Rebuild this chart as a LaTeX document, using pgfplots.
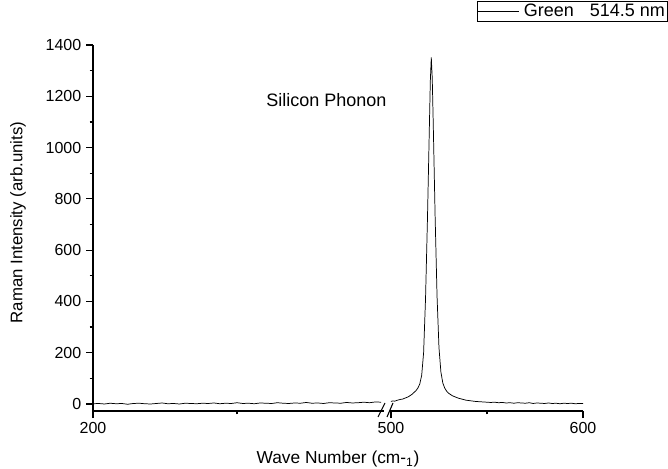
\documentclass[border=0pt]{standalone}
\usepackage{pgfplots}
\pgfplotsset{compat=1.18}
\usepackage{fontspec}
\setmainfont{Liberation Sans}

\pgfplotstableread{
x y
200 1
202 2
204 0
206 3
208 1
210 2
212 -1
214 2
216 3
218 1
220 0
222 2
224 4
226 1
228 2
230 0
232 3
234 2
236 1
238 3
240 2
242 4
244 1
246 3
248 2
250 5
252 2
254 3
256 1
258 4
260 3
262 2
264 5
266 3
268 2
270 4
272 3
274 6
276 3
278 4
280 2
282 5
284 4
286 3
288 6
290 4
292 5
294 7
296 5
298 8
300 7
}\leftdata

\pgfplotstableread{
x y
500 10
501 12
502 11
503 14
504 16
505 18
506 19
507 22
508 25
509 28
510 33
511 38
512 45
513 52
514 62
515 78
516 112
517 200
518 410
519 720
520 1080
520.5 1260
521 1352
521.5 1270
522 1100
523 730
524 420
525 220
526 125
527 82
528 62
529 50
530 42
531 37
532 32
533 29
534 26
535 23
536 21
537 19
538 17
539 15
540 14
542 12
544 10
546 9
548 8
550 7
552 6
554 7
556 5
558 6
560 4
562 5
564 3
566 5
568 4
570 3
572 5
574 2
576 4
578 3
580 2
582 4
584 2
586 3
588 1
590 3
592 2
594 3
596 1
598 2
600 2
}\rightdata

\begin{document}
\begin{tikzpicture}
\useasboundingbox (0pt,0pt) rectangle (501pt,351pt);
\pgfplotsset{
  every axis/.append style={
    scale only axis,
    height=274.5pt,
    ymin=-27.3, ymax=1400,
    font=\fontsize{12}{14}\selectfont,
    /pgf/number format/assume math mode=true,
    tick align=outside,
    major tick length=5.25pt,
    minor tick length=2.6pt,
    axis line style={line width=0.9pt},
    every tick/.style={line width=0.9pt, black},
    clip=false,
  }
}
\begin{axis}[
  at={(69.75pt,42.75pt)}, anchor=south west,
  width=218.25pt,
  xmin=200, xmax=301,
  axis x line*=bottom, axis y line*=left,
  xtick={200}, minor xtick={250},
  ytick={0,200,400,600,800,1000,1200,1400},
  minor ytick={100,300,500,700,900,1100,1300},
  yticklabel style={/pgf/number format/1000 sep={}},
  xticklabel style={/pgf/number format/1000 sep={}},
  ylabel={Raman Intensity (arb.units)},
  ylabel style={at={(axis description cs:-0.258,0.515)}, anchor=center, font=\fontsize{12.6}{15}\selectfont},
  xlabel={Wave Number (cm-\textsubscript{1})},
  xlabel style={at={(axis description cs:0.842,-0.131)}, anchor=center, font=\fontsize{13}{15}\selectfont},
]
\addplot[black, line width=0.55pt] table[x=x,y=y] {\leftdata};
\node[font=\fontsize{13.5}{15}\selectfont] at (axis cs:281,1186) {Silicon Phonon};
\end{axis}
\begin{axis}[
  at={(292.5pt,42.75pt)}, anchor=south west,
  width=144.75pt,
  xmin=499.5, xmax=600,
  axis x line*=bottom, axis y line=none,
  xtick={500,600}, minor xtick={550},
  ytick=\empty,
  xticklabel style={/pgf/number format/1000 sep={}},
  legend style={at={(axis description cs:1.4404,1.1202)}, anchor=north east,
    draw=black, line width=0.6pt, inner sep=0pt, font=\fontsize{13.5}{15}\selectfont,
    /tikz/every even column/.append style={column sep=0pt}},
  legend cell align=left,
  legend image code/.code={\draw[black, line width=0.6pt] (0pt,0pt) -- (31pt,0pt);},
]
\addplot[black, line width=0.55pt] table[x=x,y=y] {\rightdata};
\addlegendentry{\hspace{1pt}Green\hspace{12pt}514.5 nm}
\end{axis}
\draw[line width=0.8pt] (283.5pt,38.25pt) -- (288.75pt,48.75pt);
\draw[line width=0.8pt] (290.25pt,38.25pt) -- (294.75pt,48.75pt);
\end{tikzpicture}
\end{document}
